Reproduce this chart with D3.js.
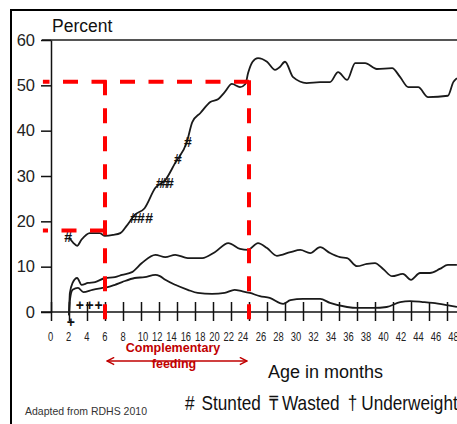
<!DOCTYPE html>
<html>
<head>
<meta charset="utf-8">
<script src="https://cdn.jsdelivr.net/npm/d3@7"></script>
<style>
  body { margin: 0; background: #fff; }
  svg { display: block; font-family: Arial, "Liberation Sans", sans-serif; }
</style>
</head>
<body>
<svg id="chart" width="457" height="424"></svg>
<script>
// % of children by age in months
const stunted = [
  [2.0,16.5],[2.5,15.2],[2.9,14.6],[3.4,16.0],[3.9,17.0],[4.3,17.4],[5.4,17.4],[6.0,16.8],
  [6.9,17.0],[7.7,17.4],[8.4,19.0],[9.3,21.4],[10.4,22.9],[11.6,27.4],[12.7,29.1],[13.8,32.9],
  [15.1,37.5],[15.7,41.9],[16.6,43.9],[17.7,46.3],[18.6,47.0],[19.3,48.5],[20.1,50.3],[21.0,49.6],
  [21.6,50.3],[21.9,52.7],[22.4,55.2],[23.0,56.0],[24.0,55.2],[24.9,53.4],[25.4,54.0],[26.0,55.2],
  [26.9,51.8],[28.4,50.5],[29.9,50.7],[31.0,50.7],[31.9,52.9],[32.9,51.2],[33.8,54.9],[34.9,54.9],
  [36.2,53.6],[37.9,53.8],[38.8,51.8],[39.7,49.6],[40.8,49.6],[41.9,47.4],[44.1,47.7],[44.7,50.7],
  [45.1,51.6]
];
const underweight = [
  [2.0,-0.7],[2.1,4.2],[2.4,6.4],[2.9,7.5],[3.4,6.0],[4.1,6.4],[4.9,6.6],[6.0,7.5],[7.1,7.7],
  [7.9,8.2],[9.0,8.8],[10.1,10.8],[11.6,12.6],[12.7,12.1],[13.8,12.6],[15.2,11.9],[16.8,11.9],
  [18.2,13.2],[19.7,15.2],[21.0,13.9],[21.9,13.7],[23.0,15.2],[24.0,14.1],[25.1,12.4],[26.6,13.2],
  [27.7,13.7],[28.8,13.0],[29.9,14.3],[31.0,13.0],[32.1,12.1],[32.9,11.9],[34.0,10.1],[35.1,10.6],
  [36.0,10.8],[36.9,9.5],[37.9,7.9],[39.1,8.4],[40.0,7.1],[41.0,8.6],[42.1,8.6],[43.2,9.5],
  [44.1,10.4],[45.1,10.4]
];
const wasted = [
  [2.0,-0.7],[2.1,2.6],[2.4,4.9],[3.0,5.3],[3.6,4.4],[4.6,4.9],[5.7,5.3],[6.3,5.5],[7.1,6.0],
  [7.9,6.6],[9.3,7.5],[10.4,7.7],[11.6,8.2],[12.1,7.9],[12.7,7.1],[13.8,6.0],[15.2,4.9],[16.3,4.2],
  [17.9,4.0],[19.3,4.2],[20.4,4.9],[21.2,4.6],[22.1,4.2],[23.2,3.5],[24.3,3.1],[25.8,1.8],[26.6,2.6],
  [28.0,2.9],[29.9,2.9],[31.0,2.0],[32.9,1.1],[34.0,0.9],[35.8,0.9],[37.3,1.1],[38.8,2.2],[39.9,2.4],
  [41.3,2.2],[42.4,2.0],[44.0,1.5],[45.1,1.1]
];
const stuntedMarks = [[1.9,16.5],[9.2,20.8],[10.0,20.8],[10.9,20.8],[12.1,28.5],[12.7,28.5],[13.2,28.5],[14.1,33.8],[15.2,37.5]];
const underweightMarks = [[2.2,-2.2],[3.2,1.5],[4.3,1.5],[5.3,1.5]];

const yTicks = [0, 10, 20, 30, 40, 50, 60];
const xTicks = d3.range(0, 45, 2);
const xLabels = d3.range(0, 49, 2);

// complementary feeding window and stunting levels marked in red
const feedStart = 6, feedEnd = 22;
const stuntStart = 18, stuntEnd = 50.8;

const legendItems = [
  { sym: '#', name: 'Stunted' },
  { sym: '\u20B8', name: 'Wasted' },
  { sym: '\u2020', name: 'Underweight' }
];

const svg = d3.select('#chart');

const x = d3.scaleLinear().domain([0, 44]).range([51, 447]);
const y = d3.scaleLinear().domain([0, 60]).range([312, 40]);
// the printed month labels are squeezed between 10 and 24
const xLab = d3.scaleLinear().domain([0, 8, 10, 24, 26, 46]).range([50.5, 123, 143, 243, 261, 436]);

// frame
svg.append('rect')
  .attr('x', 11).attr('y', 10).attr('width', 460).attr('height', 430)
  .attr('fill', 'none').attr('stroke', '#000').attr('stroke-width', 2);

// top line at 60
svg.append('line')
  .attr('x1', 42).attr('x2', 457).attr('y1', y(60)).attr('y2', y(60))
  .attr('stroke', '#555').attr('stroke-width', 2);

// y axis
const gy = svg.append('g')
  .attr('transform', 'translate(51,0)')
  .call(d3.axisLeft(y).tickValues(yTicks).tickSize(10).tickSizeOuter(0).tickPadding(6));
gy.select('.domain').attr('stroke', '#111').attr('stroke-width', 1.5);
gy.selectAll('line').attr('stroke', '#111').attr('stroke-width', 1.5);
gy.selectAll('text').attr('font-size', 16.5).attr('fill', '#222').attr('font-family', 'Arial, sans-serif');

svg.append('text')
  .attr('x', 52).attr('y', 32)
  .attr('font-size', 17.5).attr('fill', '#111')
  .text('Percent');

// x axis
svg.append('line')
  .attr('x1', 41).attr('x2', 457).attr('y1', y(0)).attr('y2', y(0))
  .attr('stroke', '#111').attr('stroke-width', 1.5);
const gx = svg.append('g')
  .attr('transform', `translate(0,${y(0)})`)
  .call(d3.axisBottom(x).tickValues(xTicks).tickFormat('').tickSizeOuter(0));
gx.select('.domain').remove();
gx.selectAll('line').attr('y1', -10).attr('y2', 9).attr('stroke', '#111').attr('stroke-width', 1.5);

// condensed month labels
svg.append('g')
  .selectAll('text').data(xLabels).join('text')
  .attr('transform', d => `translate(${xLab(d)},341) scale(0.78,1)`)
  .attr('text-anchor', 'middle')
  .attr('font-size', 12).attr('fill', '#222')
  .text(d => d);

// curves
const line = d3.line().x(d => x(d[0])).y(d => y(d[1])).curve(d3.curveMonotoneX);
[stunted, underweight, wasted].forEach(s => {
  svg.append('path')
    .attr('d', line(s))
    .attr('fill', 'none').attr('stroke', '#1a1a1a').attr('stroke-width', 1.8)
    .attr('stroke-linejoin', 'round');
});

svg.append('g').selectAll('text').data(stuntedMarks).join('text')
  .attr('x', d => x(d[0])).attr('y', d => y(d[1]))
  .attr('text-anchor', 'middle').attr('dominant-baseline', 'central')
  .attr('font-size', 14).attr('font-weight', 'bold').attr('fill', '#111')
  .text('#');

svg.append('g').selectAll('text').data(underweightMarks).join('text')
  .attr('x', d => x(d[0])).attr('y', d => y(d[1]))
  .attr('text-anchor', 'middle').attr('dominant-baseline', 'central')
  .attr('font-size', 14).attr('font-weight', 'bold').attr('fill', '#111')
  .text('+');

// red dashed guides
const red = svg.append('g').attr('stroke', '#f00').attr('stroke-width', 4).attr('fill', 'none');
red.append('line')
  .attr('x1', x(feedEnd)).attr('x2', x(-0.9)).attr('y1', y(stuntEnd)).attr('y2', y(stuntEnd))
  .attr('stroke-dasharray', '15,13.5');
red.append('line')
  .attr('x1', x(feedStart)).attr('x2', x(-0.9)).attr('y1', y(stuntStart)).attr('y2', y(stuntStart))
  .attr('stroke-dasharray', '15,13.5');
[feedStart, feedEnd].forEach(m => {
  red.append('line')
    .attr('x1', x(m)).attr('x2', x(m)).attr('y1', y(stuntEnd) - 1.5).attr('y2', y(-4.4))
    .attr('stroke-dasharray', '15,13');
});

// complementary feeding arrow
const dark = '#c00000';
svg.append('defs').selectAll('marker').data(['arrEnd', 'arrStart']).join('marker')
  .attr('id', d => d)
  .attr('viewBox', '0 0 10 10').attr('refX', 9).attr('refY', 5)
  .attr('markerWidth', 9).attr('markerHeight', 9).attr('markerUnits', 'userSpaceOnUse')
  .attr('orient', d => d === 'arrEnd' ? 'auto' : 'auto-start-reverse')
  .append('path').attr('d', 'M1,1 L9,5 L1,9')
  .attr('fill', 'none').attr('stroke', dark).attr('stroke-width', 1.6);
svg.append('line')
  .attr('x1', x(feedStart) + 2).attr('x2', x(feedEnd) - 2).attr('y1', 361).attr('y2', 361)
  .attr('stroke', dark).attr('stroke-width', 1.6)
  .attr('marker-start', 'url(#arrStart)').attr('marker-end', 'url(#arrEnd)');
const midX = (x(feedStart) + x(feedEnd)) / 2 - 4;
svg.append('text').attr('x', midX).attr('y', 352).attr('text-anchor', 'middle')
  .attr('font-size', 12.5).attr('font-weight', 'bold').attr('fill', dark).text('Complementary');
svg.append('text').attr('x', midX + 1).attr('y', 368).attr('text-anchor', 'middle')
  .attr('font-size', 12.5).attr('font-weight', 'bold').attr('fill', dark).text('feeding');

svg.append('text')
  .attr('x', 268).attr('y', 378)
  .attr('font-size', 18).attr('fill', '#111')
  .text('Age in months');

svg.append('text')
  .attr('x', 25).attr('y', 415)
  .attr('font-size', 10.5).attr('fill', '#333')
  .text('Adapted from RDHS 2010');

// legend, condensed like the original
const sx = 0.86;
const leg = svg.append('g')
  .attr('transform', `translate(185,410) scale(${sx},1)`)
  .attr('font-size', 20).attr('fill', '#111');
let lx = 0;
legendItems.forEach((it, i) => {
  const s = leg.append('text').attr('x', lx).attr('y', 0).text(it.sym);
  lx += s.node().getComputedTextLength() + (i === 0 ? 7 : 4) / sx;
  const t = leg.append('text').attr('x', lx).attr('y', 0).text(it.name);
  lx += t.node().getComputedTextLength() + 8 / sx;
});
</script>
</body>
</html>
